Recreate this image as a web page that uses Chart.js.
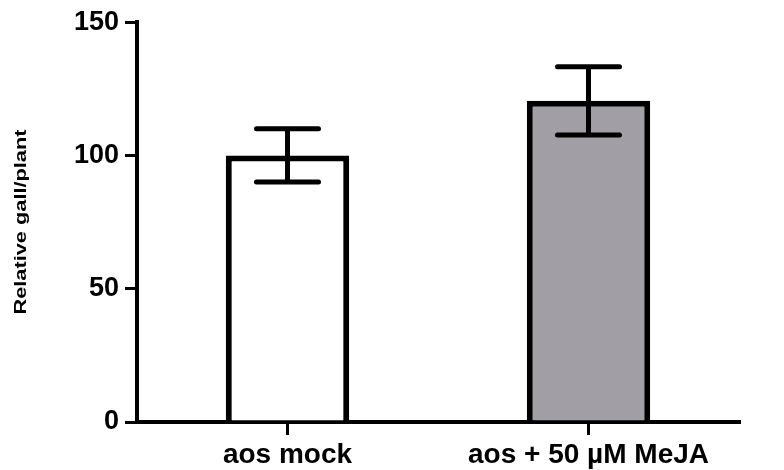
<!DOCTYPE html>
<html>
<head>
<meta charset="utf-8">
<script src="https://cdn.jsdelivr.net/npm/chart.js@4.4.1/dist/chart.umd.min.js"></script>
<style>
  html, body { margin: 0; padding: 0; background: #fff; }
  #wrap { width: 784px; height: 470px; }
</style>
</head>
<body>
<div id="wrap"><canvas id="c" width="784" height="470"></canvas></div>
<script>
// Group means and SEM
const categories = ['aos mock', 'aos + 50 µM MeJA'];
const means = [100, 120.5];
const sem = [10, 12.8];
const yTicks = [0, 50, 100, 150];
const yTitle = 'Relative gall/plant';
const fills = ['#ffffff', '#a19fa5'];

const FONT = '"Liberation Sans", Arial, sans-serif';

// Error bars with caps, drawn on top of the bars
const errorBars = {
  id: 'errorBars',
  afterDatasetsDraw(chart) {
    const ctx = chart.ctx;
    const meta = chart.getDatasetMeta(0);
    const y = chart.scales.y;
    ctx.save();
    ctx.strokeStyle = '#000';
    ctx.lineWidth = 5;
    ctx.lineCap = 'round';
    meta.data.forEach((bar, i) => {
      const x = bar.x;
      const top = y.getPixelForValue(means[i] + sem[i]);
      const bot = y.getPixelForValue(means[i] - sem[i]);
      const half = 31;
      ctx.beginPath();
      ctx.moveTo(x, top); ctx.lineTo(x, bot);
      ctx.moveTo(x - half, top); ctx.lineTo(x + half, top);
      ctx.moveTo(x - half, bot); ctx.lineTo(x + half, bot);
      ctx.stroke();
    });
    ctx.restore();
  }
};

// Rotated y-axis title, slightly widened along its reading direction
const yAxisTitle = {
  id: 'yAxisTitle',
  afterDraw(chart) {
    const ctx = chart.ctx;
    const area = chart.chartArea;
    ctx.save();
    ctx.translate(21, 222);
    ctx.rotate(-Math.PI / 2);
    ctx.scale(1.28, 1);
    ctx.font = 'bold 17px ' + FONT;
    ctx.fillStyle = '#000';
    ctx.textAlign = 'center';
    ctx.textBaseline = 'middle';
    ctx.fillText(yTitle, 0, 0);
    ctx.restore();
  }
};

new Chart(document.getElementById('c'), {
  type: 'bar',
  data: {
    labels: categories,
    datasets: [{
      data: means,
      backgroundColor: fills,
      borderColor: '#000',
      borderWidth: 6,
      borderSkipped: 'start',
      categoryPercentage: 1,
      barPercentage: 0.41
    }]
  },
  options: {
    responsive: false,
    animation: false,
    devicePixelRatio: 1,
    layout: { padding: { left: 0, right: 45, top: 22, bottom: 0 } },
    plugins: {
      legend: { display: false },
      tooltip: { enabled: false }
    },
    scales: {
      x: {
        offset: true,
        grid: {
          display: true,
          offset: false,
          drawOnChartArea: false,
          drawTicks: true,
          tickLength: 13,
          lineWidth: 3,
          color: '#000'
        },
        border: { display: true, width: 4, color: '#000' },
        ticks: {
          color: '#000',
          padding: 3,
          maxRotation: 0,
          autoSkip: false,
          font: { family: FONT, size: 28, weight: 'bold' }
        },
        afterFit(scale) { scale.height = 48; }
      },
      y: {
        min: 0,
        max: 150,
        afterBuildTicks(scale) { scale.ticks = yTicks.map(v => ({ value: v })); },
        grid: {
          display: true,
          drawOnChartArea: false,
          drawTicks: true,
          tickLength: 12,
          lineWidth: 3,
          color: '#000'
        },
        border: { display: true, width: 4, color: '#000' },
        ticks: {
          color: '#000',
          padding: 6,
          font: { family: FONT, size: 27, weight: 'bold' }
        },
        afterFit(scale) { scale.width = 137; }
      }
    }
  },
  plugins: [errorBars, yAxisTitle]
});
</script>
</body>
</html>
